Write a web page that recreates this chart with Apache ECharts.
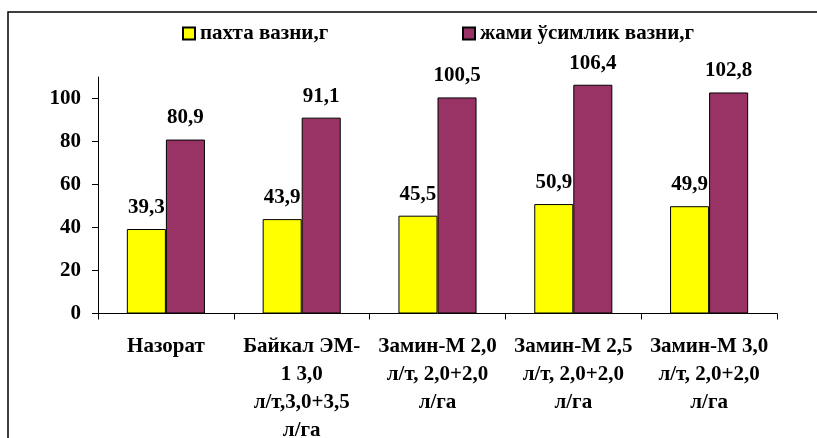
<!DOCTYPE html>
<html>
<head>
<meta charset="utf-8">
<script src="https://cdn.jsdelivr.net/npm/echarts@6/dist/echarts.min.js"></script>
<style>
html,body{margin:0;padding:0;background:#fff;}
#chart{width:817px;height:438px;}
</style>
</head>
<body>
<div id="chart"></div>
<script>
const categories = [
  "Назорат",
  "Байкал ЭМ-\n1 3,0\nл/т,3,0+3,5\nл/га",
  "Замин-М 2,0\nл/т, 2,0+2,0\nл/га",
  "Замин-М 2,5\nл/т, 2,0+2,0\nл/га",
  "Замин-М 3,0\nл/т, 2,0+2,0\nл/га"
];
const seriesNames = ["пахта вазни,г", "жами ўсимлик вазни,г"];
const cottonWeight = [39.3, 43.9, 45.5, 50.9, 49.9];
const plantWeight = [80.9, 91.1, 100.5, 106.4, 102.8];
const yTicks = [0, 20, 40, 60, 80, 100];

const FONT = "Liberation Serif";
const FS = 21;
const fmt = p => String(p.value).replace('.', ',');

const chart = echarts.init(document.getElementById('chart'));
chart.setOption({
  backgroundColor: '#fff',
  animation: false,
  textStyle: { fontFamily: FONT, fontWeight: 'bold', color: '#000' },
  graphic: [{
    type: 'rect',
    shape: { x: 8, y: 12, width: 830, height: 460 },
    style: { fill: 'none', stroke: '#000', lineWidth: 1.5 },
    silent: true, z: -10
  }],
  legend: [
    {
      data: [seriesNames[0]], left: 182, top: 23, padding: 0,
      itemWidth: 12, itemHeight: 12, icon: 'rect',
      textStyle: { fontFamily: FONT, fontWeight: 'bold', fontSize: FS, color: '#000' }
    },
    {
      data: [seriesNames[1]], left: 462, top: 23, padding: 0,
      itemWidth: 12, itemHeight: 12, icon: 'rect',
      textStyle: { fontFamily: FONT, fontWeight: 'bold', fontSize: FS, color: '#000' }
    }
  ],
  grid: { left: 98, right: 40, top: 77, bottom: 124.5, containLabel: false, outerBoundsMode: 'none' },
  xAxis: {
    type: 'category',
    data: categories,
    axisLine: { lineStyle: { color: '#000', width: 1 } },
    axisTick: { show: true, length: 6, lineStyle: { color: '#000' } },
    axisLabel: {
      interval: 0, margin: 19, color: '#000',
      fontFamily: FONT, fontWeight: 'bold', fontSize: FS, lineHeight: 28
    },
    splitLine: { show: false }
  },
  yAxis: {
    type: 'value',
    min: 0, max: 110,
    axisLine: { show: true, lineStyle: { color: '#000', width: 1 } },
    axisTick: { show: true, length: 6, lineStyle: { color: '#000' }, customValues: yTicks },
    axisLabel: {
      margin: 17, color: '#000', customValues: yTicks,
      fontFamily: FONT, fontWeight: 'bold', fontSize: FS
    },
    splitLine: { show: false }
  },
  series: [
    {
      name: seriesNames[0], type: 'bar', data: cottonWeight,
      barGap: '0%', barCategoryGap: '42.5%',
      itemStyle: { color: '#FFFF00', borderColor: '#000', borderWidth: 1 },
      label: {
        show: true, position: 'top', distance: 11, formatter: fmt,
        fontFamily: FONT, fontWeight: 'bold', fontSize: FS, color: '#000'
      }
    },
    {
      name: seriesNames[1], type: 'bar', data: plantWeight,
      barGap: '0%', barCategoryGap: '42.5%',
      itemStyle: { color: '#993366', borderColor: '#000', borderWidth: 1 },
      label: {
        show: true, position: 'top', distance: 11, formatter: fmt,
        fontFamily: FONT, fontWeight: 'bold', fontSize: FS, color: '#000'
      }
    }
  ]
});
</script>
</body>
</html>
